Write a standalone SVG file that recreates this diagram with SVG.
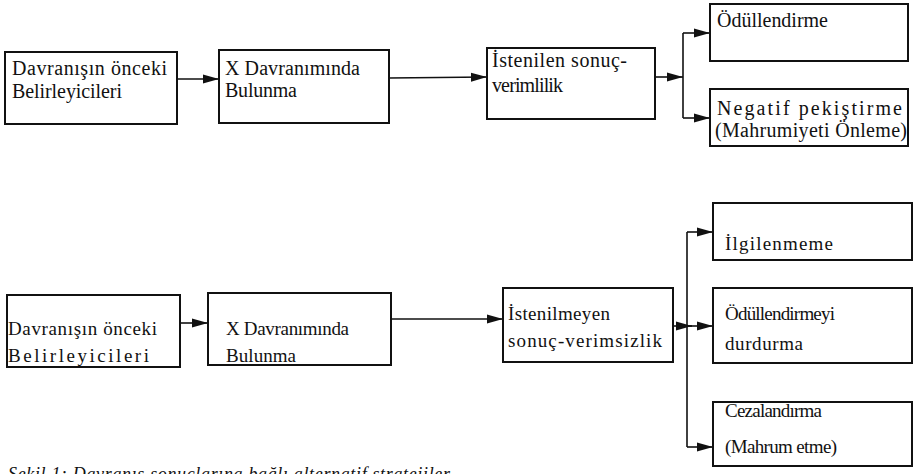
<svg xmlns="http://www.w3.org/2000/svg" width="917" height="474" viewBox="0 0 917 474">
<defs>
<style>
.box{fill:#fff;stroke:#111;stroke-width:2}
.t{font-family:"Liberation Serif","Times New Roman",serif;fill:#111;font-size:20px}
.b{font-size:19px}
.c{stroke:#111;stroke-width:1.6;fill:none}
.cap{font-family:"Liberation Serif","Times New Roman",serif;font-style:italic;font-size:18px;fill:#111}
</style>
<marker id="ah" markerUnits="userSpaceOnUse" markerWidth="17" markerHeight="11" refX="16" refY="5.5" orient="auto">
<path d="M0,1 L16,5.5 L0,10 Z" fill="#111"/>
</marker>
</defs>
<rect width="917" height="474" fill="#fff"/>
<g id="connectors">
<line class="c" x1="177" y1="79" x2="219" y2="79" marker-end="url(#ah)"/>
<line class="c" x1="389" y1="78" x2="487" y2="77" marker-end="url(#ah)"/>
<line class="c" x1="655" y1="77" x2="683" y2="77" marker-end="url(#ah)"/>
<line class="c" x1="683" y1="33" x2="683" y2="118"/>
<line class="c" x1="683" y1="33" x2="710" y2="33" marker-end="url(#ah)"/>
<line class="c" x1="683" y1="118" x2="710" y2="118" marker-end="url(#ah)"/>
<line class="c" x1="180" y1="323" x2="208" y2="323" marker-end="url(#ah)"/>
<line class="c" x1="391" y1="319" x2="503" y2="319" marker-end="url(#ah)"/>
<line class="c" x1="673" y1="326" x2="692" y2="326" marker-end="url(#ah)"/>
<line class="c" x1="687" y1="232" x2="687" y2="447"/>
<line class="c" x1="687" y1="232" x2="713" y2="232" marker-end="url(#ah)"/>
<line class="c" x1="687" y1="326" x2="713" y2="326" marker-end="url(#ah)"/>
<line class="c" x1="687" y1="447" x2="713" y2="447" marker-end="url(#ah)"/>
</g>
<g id="n1"><rect class="box" x="5" y="52" width="172" height="72"/>
<text class="t" x="12" y="75" textLength="155">Davranışın önceki</text>
<text class="t" x="12" y="98" textLength="110">Belirleyicileri</text></g>
<g id="n2"><rect class="box" x="219" y="50" width="170" height="73"/>
<text class="t" x="225" y="75" textLength="135">X Davranımında</text>
<text class="t" x="225" y="97" textLength="72">Bulunma</text></g>
<g id="n3"><rect class="box" x="487" y="48" width="168" height="71"/>
<text class="t" x="492" y="67" textLength="135">İstenilen sonuç-</text>
<text class="t" x="492" y="92" textLength="71">verimlilik</text></g>
<g id="n4"><rect class="box" x="710" y="4" width="198" height="57"/>
<text class="t" x="717" y="27" textLength="111">Ödüllendirme</text></g>
<g id="n5"><rect class="box" x="710" y="89" width="198" height="57"/>
<text class="t" x="717" y="115" textLength="185">Negatif pekiştirme</text>
<text class="t" x="715" y="137" textLength="192">(Mahrumiyeti Önleme)</text></g>
<g id="n6"><rect class="box" x="7" y="295" width="173" height="72"/>
<text class="t b" x="8" y="335" textLength="149">Davranışın önceki</text>
<text class="t b" x="8" y="362" textLength="141">Belirleyicileri</text></g>
<g id="n7"><rect class="box" x="208" y="293" width="183" height="72"/>
<text class="t b" x="226" y="335" textLength="123">X Davranımında</text>
<text class="t b" x="226" y="362" textLength="70">Bulunma</text></g>
<g id="n8"><rect class="box" x="503" y="288" width="170" height="74"/>
<text class="t b" x="508" y="320" textLength="102">İstenilmeyen</text>
<text class="t b" x="508" y="347" textLength="154">sonuç-verimsizlik</text></g>
<g id="n9"><rect class="box" x="713" y="203" width="199" height="57"/>
<text class="t b" x="725" y="250" textLength="108">İlgilenmeme</text></g>
<g id="n10"><rect class="box" x="713" y="288" width="199" height="75"/>
<text class="t b" x="725" y="320" textLength="110">Ödüllendirmeyi</text>
<text class="t b" x="725" y="350" textLength="78">durdurma</text></g>
<g id="n11"><rect class="box" x="713" y="402" width="199" height="64"/>
<text class="t b" x="725" y="417" textLength="97">Cezalandırma</text>
<text class="t b" x="725" y="453" textLength="112">(Mahrum etme)</text></g>
<text class="cap" x="8" y="480" textLength="442">Şekil 1: Davranış sonuçlarına bağlı alternatif stratejiler</text>
</svg>
